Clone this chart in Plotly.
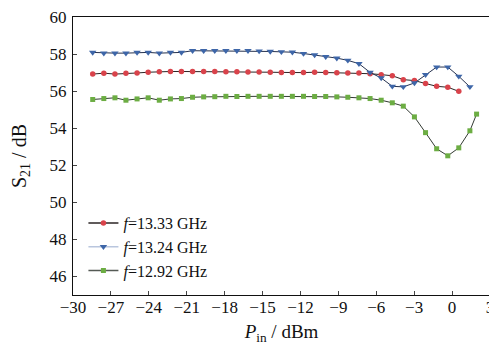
import plotly.graph_objects as go

# Input power (dBm) sample points
pin_dbm = [-28.44, -27.56, -26.68, -25.81, -24.93, -24.05, -23.17, -22.29, -21.42,
           -20.54, -19.66, -18.78, -17.90, -17.03, -16.15, -15.27, -14.39, -13.51,
           -12.64, -11.76, -10.88, -10.00, -9.12, -8.25, -7.37, -6.49, -5.61,
           -4.73, -3.86, -2.98, -2.10, -1.22, -0.34, 0.53, 1.41]
pin_green_extra = [1.94]

# S21 (dB) for each frequency
s21_1333 = [56.92, 56.97, 56.92, 56.97, 56.98, 57.02, 57.05, 57.06, 57.06, 57.06,
            57.06, 57.06, 57.04, 57.04, 57.03, 57.03, 57.02, 57.01, 57.00, 57.00,
            57.02, 57.00, 56.99, 56.98, 56.98, 56.94, 56.89, 56.83, 56.62, 56.57,
            56.41, 56.26, 56.21, 55.99]
s21_1324 = [58.09, 58.05, 58.05, 58.05, 58.09, 58.09, 58.05, 58.09, 58.09, 58.18,
            58.18, 58.18, 58.18, 58.18, 58.18, 58.16, 58.14, 58.12, 58.10, 58.03,
            57.95, 57.86, 57.78, 57.66, 57.48, 57.01, 56.71, 56.26, 56.23, 56.44,
            56.89, 57.30, 57.30, 56.80, 56.23]
s21_1292 = [55.55, 55.60, 55.64, 55.51, 55.58, 55.64, 55.51, 55.58, 55.60, 55.67,
            55.69, 55.70, 55.72, 55.71, 55.72, 55.72, 55.72, 55.72, 55.72, 55.72,
            55.71, 55.71, 55.69, 55.67, 55.64, 55.60, 55.51, 55.37, 55.19, 54.61,
            53.76, 52.89, 52.51, 52.94, 53.86, 54.76]

names = ["<i>f</i>=13.33 GHz", "<i>f</i>=13.24 GHz", "<i>f</i>=12.92 GHz"]
x_tick_start, x_tick_step = -30, 3
y_ticks = [46, 48, 50, 52, 54, 56, 58, 60]

series = [
    (pin_dbm[:len(s21_1333)], s21_1333, "#2b2424", "#d9434b", "circle", 5.5, "#2b2424"),
    (pin_dbm, s21_1324, "#26324f", "#3e66a8", "triangle-down", 6.5, "#b9c6de"),
    (pin_dbm + pin_green_extra, s21_1292, "#333a33", "#6cad43", "square", 5, "#555a55"),
]

fig = go.Figure()
for (xs, ys, lc, mc, sym, ms, leg_lc), nm in zip(series, names):
    fig.add_trace(go.Scatter(
        x=xs, y=ys, mode="lines+markers", showlegend=False,
        line=dict(color=lc, width=1),
        marker=dict(color=mc, symbol=sym, size=ms, line=dict(width=0)),
    ))
for (xs, ys, lc, mc, sym, ms, leg_lc), nm in zip(series, names):
    fig.add_trace(go.Scatter(
        x=[None], y=[None], mode="lines+markers", name=nm,
        line=dict(color=leg_lc, width=1.5),
        marker=dict(color=mc, symbol=sym, size=ms, line=dict(width=0)),
    ))

# The page body adds an 8px offset, so the figure is sized to fill the rest of the window.
font_family = "Liberation Serif, Times New Roman, serif"
fig.update_layout(
    width=489, height=339,
    margin=dict(l=65, r=7, t=9, b=52),
    paper_bgcolor="white", plot_bgcolor="white",
    font=dict(family=font_family, size=17, color="#111"),
    legend=dict(x=0.025, y=0.32, xanchor="left", yanchor="top",
                bgcolor="rgba(0,0,0,0)", font=dict(size=16, family=font_family),
                itemwidth=30, tracegroupgap=0),
)
fig.update_xaxes(
    range=[-30, 3.001], tickmode="linear", tick0=x_tick_start, dtick=x_tick_step,
    ticks="inside", ticklen=4,
    ticklabeloverflow="allow", ticklabelstandoff=-3, automargin=False,
    showline=True, linecolor="#111", linewidth=1, mirror=True,
    showgrid=False, zeroline=False,
    title=dict(text="<i>P</i><sub>in</sub> / dBm", standoff=8, font=dict(size=19)),
)
fig.update_yaxes(
    range=[45, 60], tickvals=y_ticks, ticks="inside", ticklen=4,
    ticklabeloverflow="allow", ticklabelstandoff=2, automargin=False,
    showline=True, linecolor="#111", linewidth=1, mirror=True,
    showgrid=False, zeroline=False,
    title=dict(text="S<sub>21</sub> / dB", standoff=17, font=dict(size=20)),
)

fig.write_html("out.html")
